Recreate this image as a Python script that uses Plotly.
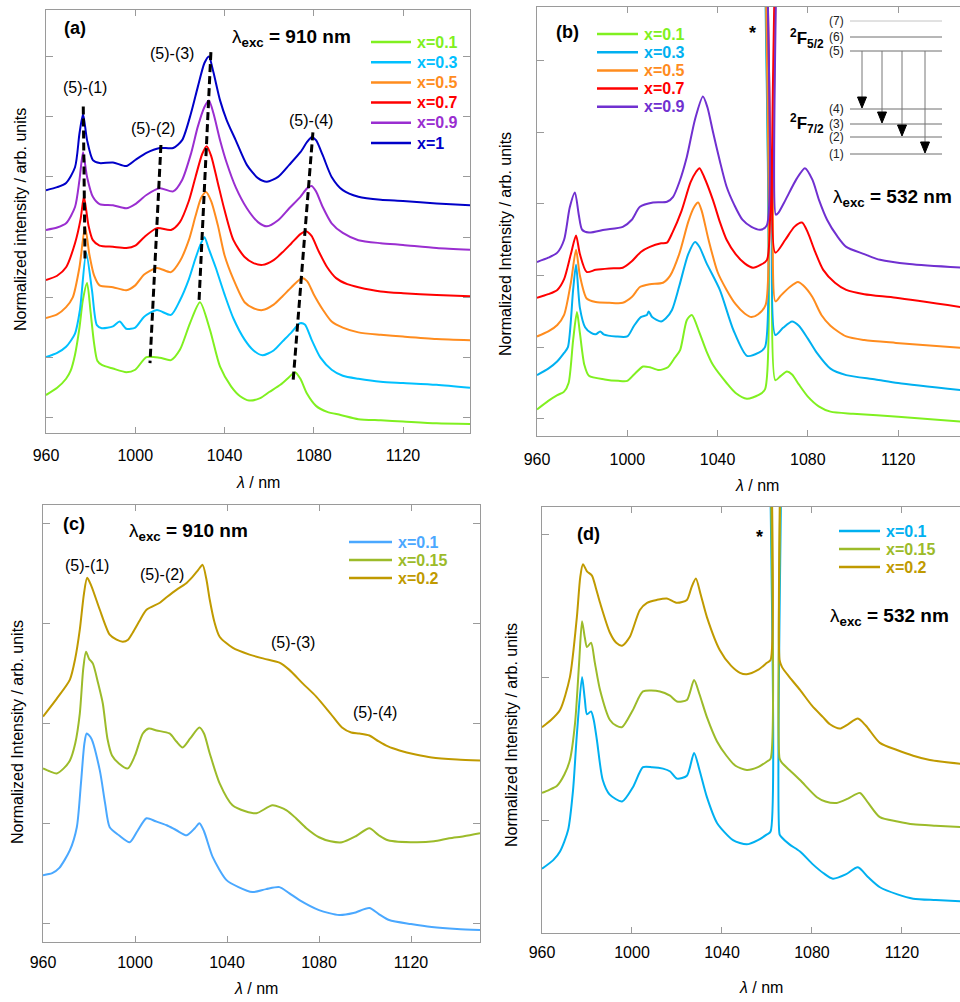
import plotly.graph_objects as go

FONT = "Liberation Sans, Arial, Helvetica, sans-serif"
W, H = 960, 1002
AXIS_GREY = "#9a9a9a"

# ---------------------------------------------------------------------------
# (a) emission spectra, excitation at 910 nm
# ---------------------------------------------------------------------------
a_names = ["x=0.1", "x=0.3", "x=0.5", "x=0.7", "x=0.9", "x=1"]
a_colors = ["#80f020", "#00c0ff", "#ff8c1e", "#ff0000", "#9a2ed0", "#0000c8"]

a_wl_01 = [960, 965, 969, 971, 973, 975, 976.5, 978.4, 980, 981.5, 983, 985, 990, 996, 1000,
           1005, 1011, 1016, 1020, 1024.5, 1029, 1033.5, 1038, 1043, 1047, 1051, 1056, 1060,
           1065, 1069, 1071.6, 1074, 1077, 1081, 1086, 1092, 1100, 1110, 1120, 1135, 1150]
a_int_01 = [0.38, 0.50, 0.65, 0.78, 1.05, 1.50, 1.95, 2.24, 1.75, 1.25, 0.95, 0.88, 0.82, 0.76, 0.80,
            1.01, 1.00, 0.96, 1.13, 1.57, 1.92, 1.46, 0.85, 0.52, 0.36, 0.29, 0.33, 0.43,
            0.55, 0.68, 0.76, 0.65, 0.40, 0.20, 0.10, 0.05, -0.02, -0.04, -0.06, -0.09, -0.10]

a_wl_03 = [960, 965, 969, 973, 975.2, 978, 980.6, 982.8, 985, 990, 993, 996, 1000, 1004, 1009.7,
           1016, 1020, 1024, 1027, 1029.5, 1031, 1033, 1036, 1040, 1044, 1049, 1053, 1057, 1062,
           1066, 1070, 1073.8, 1076, 1079, 1083, 1088, 1093, 1100, 1110, 1120, 1135, 1150]
a_int_03 = [1.01, 1.08, 1.18, 1.40, 1.79, 2.74, 2.12, 1.54, 1.49, 1.52, 1.60, 1.48, 1.50, 1.68, 1.79,
            1.71, 1.95, 2.30, 2.65, 2.90, 3.00, 2.80, 2.50, 2.05, 1.65, 1.30, 1.12, 1.04, 1.12,
            1.27, 1.42, 1.57, 1.55, 1.30, 1.00, 0.80, 0.70, 0.65, 0.60, 0.58, 0.55, 0.50]

a_wl_05 = [960, 965, 969, 972, 975, 977.5, 979.5, 981.5, 984, 990, 996, 1000, 1004, 1009.7, 1016,
           1020, 1024, 1027, 1029.5, 1031.7, 1034, 1037, 1040, 1044, 1049, 1053, 1057, 1062, 1066,
           1070, 1074.6, 1077, 1080, 1084, 1088, 1093, 1100, 1110, 1120, 1135, 1150]
a_int_05 = [1.66, 1.72, 1.84, 2.00, 2.50, 3.17, 2.70, 2.37, 2.20, 2.17, 2.12, 2.20, 2.38, 2.49, 2.42,
            2.60, 2.95, 3.35, 3.65, 3.75, 3.60, 3.20, 2.70, 2.30, 1.92, 1.82, 1.79, 1.88, 2.02,
            2.17, 2.32, 2.27, 2.05, 1.80, 1.60, 1.50, 1.42, 1.38, 1.35, 1.31, 1.29]

a_wl_07 = [960, 965, 969, 973, 975.5, 977, 979, 981, 984, 990, 996, 1000, 1004, 1009.7, 1016,
           1020, 1024, 1027, 1030, 1032, 1034, 1037, 1040, 1044, 1049, 1053, 1057, 1062, 1066,
           1070, 1074, 1076.5, 1079, 1082, 1086, 1090, 1095, 1100, 1110, 1120, 1135, 1150]
a_int_07 = [2.29, 2.36, 2.50, 2.90, 3.30, 3.67, 3.20, 2.95, 2.86, 2.84, 2.82, 2.86, 3.00, 3.15, 3.12,
            3.25, 3.60, 4.00, 4.38, 4.51, 4.35, 3.90, 3.45, 2.95, 2.67, 2.57, 2.54, 2.62, 2.75,
            2.90, 3.05, 3.10, 3.02, 2.78, 2.50, 2.32, 2.22, 2.17, 2.10, 2.07, 2.04, 2.02]

a_wl_hi = [960, 965, 969, 973, 975, 976.6, 978.4, 981, 984, 990, 996, 1000, 1005, 1011, 1017,
           1021, 1025, 1028, 1031, 1033, 1035, 1038, 1041, 1045, 1050, 1055, 1059, 1064, 1069,
           1074, 1077, 1079, 1081, 1084, 1088, 1093, 1100, 1110, 1120, 1135, 1150]
a_int_09 = [3.12, 3.16, 3.23, 3.50, 3.95, 4.41, 4.00, 3.67, 3.55, 3.53, 3.48, 3.55, 3.70, 3.81, 3.76,
            3.95, 4.39, 4.83, 5.16, 5.27, 5.06, 4.61, 4.23, 3.83, 3.48, 3.25, 3.18, 3.28, 3.48,
            3.67, 3.81, 3.85, 3.76, 3.50, 3.23, 3.07, 2.95, 2.90, 2.87, 2.82, 2.79]
a_int_10 = [3.78, 3.83, 3.90, 4.16, 4.72, 5.04, 4.61, 4.28, 4.23, 4.24, 4.18, 4.28, 4.40, 4.48, 4.48,
            4.61, 5.06, 5.49, 5.89, 6.00, 5.74, 5.27, 4.94, 4.61, 4.20, 3.98, 3.92, 4.00, 4.20,
            4.41, 4.58, 4.66, 4.61, 4.36, 4.00, 3.78, 3.67, 3.62, 3.60, 3.56, 3.53]

# peak-position guides (5)-(1) ... (5)-(4): upper and lower ends
guide_wl_top = [976.7, 1011.5, 1033.9, 1079.6]
guide_int_top = [5.17, 4.53, 6.07, 4.74]
guide_wl_bot = [977.5, 1006.6, 1028.6, 1070.7]
guide_int_bot = [2.60, 0.91, 1.96, 0.60]

# ---------------------------------------------------------------------------
# (b) emission spectra, excitation at 532 nm (laser line near 1064 nm)
# ---------------------------------------------------------------------------
b_names = ["x=0.1", "x=0.3", "x=0.5", "x=0.7", "x=0.9"]
b_colors = ["#80f020", "#00b0f0", "#ff8c1e", "#ff0000", "#7030d0"]

b_wl_01 = [960, 965, 969, 972, 974, 976, 977.7, 979, 981, 983, 990, 996, 1000, 1003, 1007,
           1010, 1014, 1018, 1021, 1023.4, 1026.4, 1028.6, 1032, 1035, 1038, 1044, 1048, 1053,
           1058, 1061, 1062.5, 1064.4, 1065.6, 1068, 1070.7, 1073, 1076, 1080, 1085, 1090,
           1100, 1120, 1148]
b_int_01 = [0.13, 0.25, 0.33, 0.38, 0.50, 1.10, 1.49, 1.20, 0.75, 0.60, 0.55, 0.53, 0.53, 0.62, 0.73,
            0.72, 0.68, 0.72, 0.85, 0.96, 1.38, 1.45, 1.20, 0.95, 0.75, 0.50, 0.36, 0.28,
            0.33, 0.41, 9.0, 9.0, 0.54, 0.60, 0.66, 0.62, 0.48, 0.31, 0.17, 0.10,
            0.07, 0.03, -0.04]

b_wl_03 = [960, 965, 968.9, 972, 973.7, 976, 977.3, 979, 981.3, 984, 986, 988, 989.5, 995, 1000,
           1003, 1006, 1008.7, 1009.5, 1011, 1015, 1017, 1019.8, 1023, 1027, 1030, 1032, 1035,
           1041, 1047, 1053, 1058, 1061, 1062.3, 1064.6, 1065.6, 1069, 1073, 1076, 1080, 1084,
           1090, 1097, 1110, 1120, 1148]
b_int_03 = [0.61, 0.70, 0.80, 0.92, 1.00, 1.80, 2.15, 1.55, 1.28, 1.20, 1.18, 1.22, 1.18, 1.15, 1.15,
            1.30, 1.42, 1.45, 1.50, 1.42, 1.36, 1.40, 1.52, 1.85, 2.30, 2.47, 2.40, 2.18,
            1.80, 1.24, 0.88, 0.92, 1.00, 9.0, 9.0, 1.17, 1.27, 1.36, 1.30, 1.12, 0.92,
            0.70, 0.61, 0.55, 0.50, 0.40]

b_wl_05 = [960, 965, 969, 972, 975, 977.3, 979, 982, 986, 992, 998, 1002, 1005.6, 1010, 1015.8,
           1019, 1023, 1027, 1029.5, 1031.4, 1033, 1036, 1040, 1044, 1048, 1052, 1055, 1058,
           1061.3, 1062.4, 1064.6, 1065.6, 1068, 1072, 1075.6, 1078, 1082, 1086, 1090, 1097,
           1105, 1119, 1148]
b_int_05 = [1.15, 1.22, 1.31, 1.45, 1.90, 2.36, 2.00, 1.68, 1.63, 1.62, 1.62, 1.70, 1.84, 1.88, 1.90,
            2.00, 2.30, 2.75, 2.95, 3.02, 2.90, 2.50, 2.05, 1.80, 1.60, 1.47, 1.42, 1.46,
            1.59, 9.0, 9.0, 1.64, 1.72, 1.84, 1.91, 1.86, 1.70, 1.45, 1.30, 1.15,
            1.10, 1.06, 0.99]

b_wl_07 = [960, 965, 969, 972, 975, 977.3, 979, 982, 986, 992, 998, 1002, 1006, 1010, 1015,
           1017.6, 1020, 1024, 1028, 1030.5, 1032, 1034, 1038, 1041, 1044, 1048, 1052, 1055.7,
           1059, 1061.9, 1062.7, 1064.7, 1065.6, 1070, 1074, 1077.4, 1080, 1083, 1086.8, 1092,
           1097, 1105, 1119, 1148]
b_int_07 = [1.69, 1.74, 1.80, 1.95, 2.30, 2.56, 2.30, 2.05, 2.08, 2.10, 2.11, 2.20, 2.33, 2.40, 2.45,
            2.46, 2.60, 2.90, 3.30, 3.45, 3.50, 3.38, 3.05, 2.75, 2.50, 2.30, 2.17, 2.11,
            2.15, 2.22, 9.0, 9.0, 2.32, 2.50, 2.68, 2.74, 2.60, 2.35, 2.08, 1.90,
            1.80, 1.74, 1.69, 1.56]

b_wl_09 = [960, 965, 969, 972, 974.5, 976.8, 978.5, 980, 983, 990, 998, 1002, 1005.6, 1011.4, 1017.6,
           1020.3, 1023, 1026.4, 1030, 1033.5, 1035.5, 1038, 1041, 1044, 1047.5, 1051, 1055, 1059,
           1061.8, 1062.6, 1064.8, 1065.8, 1067, 1070, 1075, 1078.7, 1082, 1085, 1088.5, 1093,
           1097, 1105, 1112, 1125, 1148]
b_int_09 = [2.19, 2.25, 2.32, 2.50, 2.95, 3.16, 2.85, 2.64, 2.60, 2.64, 2.68, 2.78, 2.96, 3.02, 3.03,
            3.10, 3.30, 3.66, 4.18, 4.50, 4.35, 4.00, 3.60, 3.24, 2.98, 2.78, 2.68, 2.64,
            2.70, 9.0, 9.0, 2.85, 2.88, 3.05, 3.35, 3.50, 3.34, 3.05, 2.78, 2.55,
            2.40, 2.30, 2.22, 2.16, 2.11]

# Yb3+ crystal-field levels of the inset (row positions in the inset, top = 0)
level_names = ["(1)", "(2)", "(3)", "(4)", "(5)", "(6)", "(7)"]
level_rows = [154, 137, 124, 109, 51, 37, 21]
emission_targets = ["(4)", "(3)", "(2)", "(1)"]
emission_cols = [862, 882, 902, 925]

# ---------------------------------------------------------------------------
# (c) emission spectra, excitation at 910 nm
# ---------------------------------------------------------------------------
c_names = ["x=0.1", "x=0.15", "x=0.2"]
c_colors = ["#4aa8ff", "#9cbb2a", "#c09a00"]

c_wl_010 = [960, 964, 967, 971.7, 974.7, 976.5, 978, 979, 981, 984.7, 987, 989, 993, 997.7, 1001,
            1005, 1009, 1013.8, 1018, 1022.5, 1026, 1028, 1030, 1033.8, 1039.8, 1045, 1051, 1057,
            1062.8, 1067, 1071.5, 1080, 1088.8, 1095, 1101.9, 1106, 1110.5, 1120, 1129, 1140, 1150]
c_int_010 = [0.48, 0.50, 0.55, 0.73, 0.96, 1.40, 1.80, 1.90, 1.85, 1.53, 1.20, 0.96, 0.88, 0.81, 0.92,
             1.05, 1.02, 0.98, 0.93, 0.88, 0.95, 1.00, 0.92, 0.66, 0.43, 0.36, 0.31, 0.34,
             0.36, 0.30, 0.23, 0.13, 0.08, 0.10, 0.15, 0.09, 0.03, -0.01, -0.04, -0.06, -0.07]

c_wl_015 = [960, 963, 966, 969, 971.7, 974, 976, 977.5, 978.7, 980, 981.7, 984, 986, 988, 990,
            993, 996.9, 1000, 1003.4, 1006, 1009.4, 1015, 1018, 1020.7, 1024, 1028, 1030, 1032.5,
            1036.8, 1042.4, 1048, 1052.8, 1059.8, 1065.9, 1070, 1074.5, 1080, 1085, 1090, 1096,
            1101.9, 1106, 1110, 1122, 1130, 1136.6, 1143, 1150]
c_int_015 = [1.55, 1.52, 1.50, 1.55, 1.63, 1.80, 2.10, 2.55, 2.72, 2.65, 2.60, 2.40, 2.20, 1.85, 1.68,
             1.60, 1.55, 1.68, 1.90, 1.95, 1.93, 1.90, 1.82, 1.76, 1.85, 1.96, 1.90, 1.70,
             1.40, 1.18, 1.12, 1.10, 1.18, 1.13, 1.05, 0.95, 0.86, 0.82, 0.81, 0.87,
             0.95, 0.88, 0.83, 0.81, 0.82, 0.85, 0.87, 0.90]

c_wl_020 = [960, 966, 971.7, 974, 976, 977.8, 979.2, 981, 984.7, 989, 992, 994.7, 997, 999, 1002,
            1005, 1010.8, 1014, 1018, 1022, 1025, 1027.5, 1029.4, 1031, 1032.5, 1034.5, 1036.8,
            1042.4, 1049.8, 1056, 1062.8, 1067, 1073, 1078.8, 1085, 1090, 1094, 1097.5, 1101.9,
            1106, 1110, 1115, 1122, 1129, 1140, 1150]
c_int_020 = [2.07, 2.25, 2.44, 2.65, 2.94, 3.30, 3.46, 3.38, 3.14, 2.89, 2.84, 2.82, 2.84, 2.91, 3.03,
             3.14, 3.21, 3.27, 3.34, 3.40, 3.47, 3.54, 3.59, 3.45, 3.24, 3.02, 2.87,
             2.76, 2.69, 2.65, 2.61, 2.54, 2.40, 2.27, 2.10, 1.96, 1.91, 1.90, 1.88,
             1.82, 1.77, 1.73, 1.69, 1.66, 1.64, 1.63]

# ---------------------------------------------------------------------------
# (d) emission spectra, excitation at 532 nm
# ---------------------------------------------------------------------------
d_names = ["x=0.1", "x=0.15", "x=0.2"]
d_colors = ["#00b0f0", "#9cbb2a", "#c09a00"]

d_wl_010 = [960, 965, 968, 971.6, 973.8, 975.5, 977.8, 979, 980, 981.8, 983, 984.4, 987, 990, 995.6,
            1000.4, 1004.9, 1009, 1013.8, 1017, 1020, 1024.4, 1027.6, 1030, 1033.3, 1037.8, 1044.9,
            1051, 1056, 1060, 1061.6, 1062.4, 1064.8, 1065.6, 1066.5, 1070, 1074.7, 1080.4, 1085,
            1089.3, 1095, 1100.4, 1105, 1110.2, 1118, 1125, 1135, 1148]
d_int_010 = [-0.34, -0.28, -0.22, -0.07, 0.21, 0.60, 1.00, 0.85, 0.74, 0.76, 0.70, 0.56, 0.28, 0.18, 0.13,
             0.23, 0.37, 0.37, 0.36, 0.34, 0.29, 0.31, 0.47, 0.35, 0.16, -0.02, -0.14,
             -0.17, -0.14, -0.10, -0.08, 5.0, 5.0, -0.10, -0.12, -0.17, -0.22, -0.31, -0.37,
             -0.41, -0.38, -0.33, -0.40, -0.47, -0.52, -0.55, -0.56, -0.57]

d_wl_015 = [960, 963, 966.7, 970, 972.4, 974.7, 976.5, 977.8, 979, 980, 981.8, 983.5, 985.8, 990.2, 993,
            995.6, 1000.4, 1004.9, 1012.4, 1016.9, 1020, 1024.4, 1027.6, 1030, 1033.3, 1037.8, 1042,
            1046, 1051, 1056, 1060, 1061.6, 1062.4, 1064.8, 1065.6, 1066.7, 1070, 1074.7, 1082.2,
            1086, 1091, 1096, 1101.3, 1105, 1110.2, 1118, 1125, 1135, 1148]
d_int_015 = [0.19, 0.21, 0.24, 0.32, 0.42, 0.68, 1.10, 1.39, 1.28, 1.21, 1.24, 1.10, 0.91, 0.70, 0.66,
             0.65, 0.77, 0.90, 0.90, 0.87, 0.83, 0.84, 0.98, 0.88, 0.72, 0.55, 0.45,
             0.38, 0.35, 0.37, 0.41, 0.43, 5.0, 5.0, 0.43, 0.40, 0.35, 0.28, 0.16,
             0.13, 0.12, 0.15, 0.19, 0.12, 0.02, -0.01, -0.03, -0.04, -0.05]

d_wl_020 = [960, 964, 968, 972.4, 975.5, 977, 978.2, 980, 982.2, 984, 985.8, 990.2, 993, 995.6, 999,
            1003.5, 1006.7, 1011, 1015.5, 1020, 1024.4, 1026.5, 1028.4, 1030.5, 1033.3, 1039, 1044,
            1048, 1051, 1056, 1060, 1061.6, 1062.4, 1064.8, 1065.6, 1066.7, 1070, 1074.7, 1080,
            1084.9, 1088, 1092.4, 1096, 1100.4, 1104, 1110.2, 1117.8, 1125, 1132.4, 1148]
d_int_020 = [0.65, 0.70, 0.77, 1.00, 1.42, 1.70, 1.79, 1.74, 1.71, 1.62, 1.52, 1.31, 1.24, 1.22, 1.28,
             1.47, 1.52, 1.54, 1.55, 1.52, 1.54, 1.63, 1.69, 1.58, 1.42, 1.19, 1.08,
             1.03, 1.02, 1.05, 1.10, 1.12, 5.0, 5.0, 1.12, 1.07, 1.00, 0.91, 0.80,
             0.72, 0.67, 0.64, 0.67, 0.71, 0.66, 0.54, 0.49, 0.45, 0.42, 0.39]


# ---------------------------------------------------------------------------
# helpers: pixel position on the page -> paper coordinates
# ---------------------------------------------------------------------------
def fx(p):
    return p / W


def fy(p):
    return 1 - p / H


annotations = []
shapes = []


def add_text(x, y, s, size, color="black", xanchor="center", yanchor="middle", angle=0):
    annotations.append(dict(
        x=fx(x), y=fy(y), xref="paper", yref="paper", text=s, showarrow=False,
        font=dict(family=FONT, size=size, color=color),
        xanchor=xanchor, yanchor=yanchor, textangle=angle, borderpad=0,
    ))


def add_legend(names, colors, x0, x1, y0, dy):
    for i, (n, c) in enumerate(zip(names, colors)):
        y = y0 + i * dy
        shapes.append(dict(type="line", xref="paper", yref="paper",
                           x0=fx(x0), x1=fx(x1), y0=fy(y), y1=fy(y),
                           line=dict(color=c, width=2.5)))
        add_text(x1 + 5, y, f"<b>{n}</b>", 16, c, xanchor="left")


fig = go.Figure()


def add_series(xa, ya, wls, ints, names, colors):
    for wl, it, n, c in zip(wls, ints, names, colors):
        fig.add_trace(go.Scatter(x=wl, y=it, mode="lines", name=n,
                                 line=dict(color=c, width=2, shape="spline", smoothing=0.7),
                                 xaxis=xa, yaxis=ya, showlegend=False))


add_series("x", "y",
           [a_wl_01, a_wl_03, a_wl_05, a_wl_07, a_wl_hi, a_wl_hi],
           [a_int_01, a_int_03, a_int_05, a_int_07, a_int_09, a_int_10],
           a_names, a_colors)
for xt, yt, xb, yb in zip(guide_wl_top, guide_int_top, guide_wl_bot, guide_int_bot):
    fig.add_trace(go.Scatter(x=[xt, xb], y=[yt, yb], mode="lines",
                             line=dict(color="black", width=3, dash="8px,4px"),
                             xaxis="x", yaxis="y", showlegend=False))

add_series("x2", "y2",
           [b_wl_01, b_wl_03, b_wl_05, b_wl_07, b_wl_09],
           [b_int_01, b_int_03, b_int_05, b_int_07, b_int_09],
           b_names, b_colors)
add_series("x3", "y3",
           [c_wl_010, c_wl_015, c_wl_020],
           [c_int_010, c_int_015, c_int_020],
           c_names, c_colors)
add_series("x4", "y4",
           [d_wl_010, d_wl_015, d_wl_020],
           [d_int_010, d_int_015, d_int_020],
           d_names, d_colors)


# ---------------------------------------------------------------------------
# axes
# ---------------------------------------------------------------------------
def xaxis(domain, rng, anchor, standoff):
    return dict(domain=domain, range=rng, anchor=anchor, tick0=960, dtick=40,
                showline=True, linecolor=AXIS_GREY, linewidth=1, mirror="ticks",
                ticks="inside", ticklen=6, tickcolor=AXIS_GREY, tickwidth=1,
                showgrid=False, zeroline=False, ticklabelstandoff=standoff,
                automargin=False,
                tickfont=dict(family=FONT, size=16, color="black"))


def yaxis(domain, rng, anchor, mirror):
    return dict(domain=domain, range=rng, anchor=anchor, tick0=0, dtick=1,
                showline=True, linecolor=AXIS_GREY, linewidth=1, mirror=mirror,
                ticks="inside", ticklen=7, tickcolor=AXIS_GREY, tickwidth=1,
                showgrid=False, zeroline=False, showticklabels=False,
                automargin=False)


layout_axes = dict(
    xaxis=xaxis([fx(46), fx(470)], [960, 1150], "y", 8),
    yaxis=yaxis([fy(433), fy(10)], [-0.25, 6.77], "x", "ticks"),
    xaxis2=xaxis([fx(537), 1.0], [960, 1147.4], "y2", 9),
    yaxis2=yaxis([fy(436), fy(7)], [-0.24, 5.75], "x2", False),
    xaxis3=xaxis([fx(43), fx(480)], [960, 1150], "y3", 6),
    yaxis3=yaxis([fy(942), fy(505)], [-0.19, 4.19], "x3", "ticks"),
    xaxis4=xaxis([fx(542), 1.0], [960, 1145.8], "y4", 5),
    yaxis4=yaxis([fy(933), fy(507)], [-0.79, 2.19], "x4", False),
)

# ---------------------------------------------------------------------------
# axis titles
# ---------------------------------------------------------------------------
YT = "Normalized intensity / arb. units"
YT2 = "Normalized Intensity / arb. units"
XT = "<i>λ</i> / nm"
add_text(20, 220, YT, 16, angle=-90)
add_text(505, 244, YT2, 16, angle=-90)
add_text(17, 732, YT2, 16, angle=-90)
add_text(511, 735, YT2, 16, angle=-90)
add_text(258, 482, XT, 16)
add_text(757, 485, XT, 16)
add_text(256, 988, XT, 16)
add_text(761, 987, XT, 16)


# ---------------------------------------------------------------------------
# panel labels and notes
# ---------------------------------------------------------------------------
def exc(lam):
    return f"λ<sub><b>exc</b></sub><b> = {lam} nm</b>"


add_text(75, 28, "<b>(a)</b>", 18)
add_text(291, 38, exc(910), 19)
add_text(85, 88, "(5)-(1)", 16)
add_text(153, 129, "(5)-(2)", 16)
add_text(172, 54, "(5)-(3)", 16)
add_text(311, 120, "(5)-(4)", 16)
add_legend(a_names, a_colors, 371, 411, 42, 20.2)

add_text(567, 32, "<b>(b)</b>", 18)
add_text(752, 33, "<b>*</b>", 18)
add_text(892, 198, exc(532), 19)
add_legend(b_names, b_colors, 597, 638, 34, 18.2)

add_text(74, 524, "<b>(c)</b>", 18)
add_text(188, 532, exc(910), 19)
add_text(87, 565, "(5)-(1)", 16)
add_text(162, 574, "(5)-(2)", 16)
add_text(293, 642, "(5)-(3)", 16)
add_text(375, 712, "(5)-(4)", 16)
add_legend(c_names, c_colors, 349, 392, 542, 18)

add_text(588, 534, "<b>(d)</b>", 18)
add_text(759, 537, "<b>*</b>", 18)
add_text(889, 617, exc(532), 19)
add_legend(d_names, d_colors, 839, 880, 531, 18)

# ---------------------------------------------------------------------------
# inset in (b): 2F5/2 -> 2F7/2 emission scheme
# ---------------------------------------------------------------------------
LX0, LX1 = 850, 942
row_of = dict(zip(level_names, level_rows))
for name, row in zip(level_names, level_rows):
    col = "#c4c4c4" if name == "(7)" else "#6e6e6e"
    shapes.append(dict(type="line", xref="paper", yref="paper",
                       x0=fx(LX0), x1=fx(LX1), y0=fy(row), y1=fy(row),
                       line=dict(color=col, width=1)))
    add_text(836, row, name, 12, color="#222222")

top_row = row_of["(5)"]
for target, col in zip(emission_targets, emission_cols):
    tip = row_of[target] - 1
    shapes.append(dict(type="line", xref="paper", yref="paper",
                       x0=fx(col), x1=fx(col), y0=fy(top_row), y1=fy(tip - 8),
                       line=dict(color="#777777", width=1)))
    path = (f"M {fx(col - 4.5)} {fy(tip - 11)} L {fx(col + 4.5)} {fy(tip - 11)} "
            f"L {fx(col)} {fy(tip)} Z")
    shapes.append(dict(type="path", xref="paper", yref="paper", path=path,
                       fillcolor="black", line=dict(color="black", width=1)))

add_text(807, 38, "<b><sup>2</sup>F<sub>5/2</sub></b>", 17)
add_text(807, 124, "<b><sup>2</sup>F<sub>7/2</sub></b>", 17)

fig.update_layout(
    width=W, height=H,
    margin=dict(l=0, r=0, t=0, b=0, autoexpand=False),
    paper_bgcolor="white", plot_bgcolor="white",
    font=dict(family=FONT, size=15, color="black"),
    showlegend=False,
    annotations=annotations,
    shapes=shapes,
    **layout_axes,
)

fig.write_html("out.html")
